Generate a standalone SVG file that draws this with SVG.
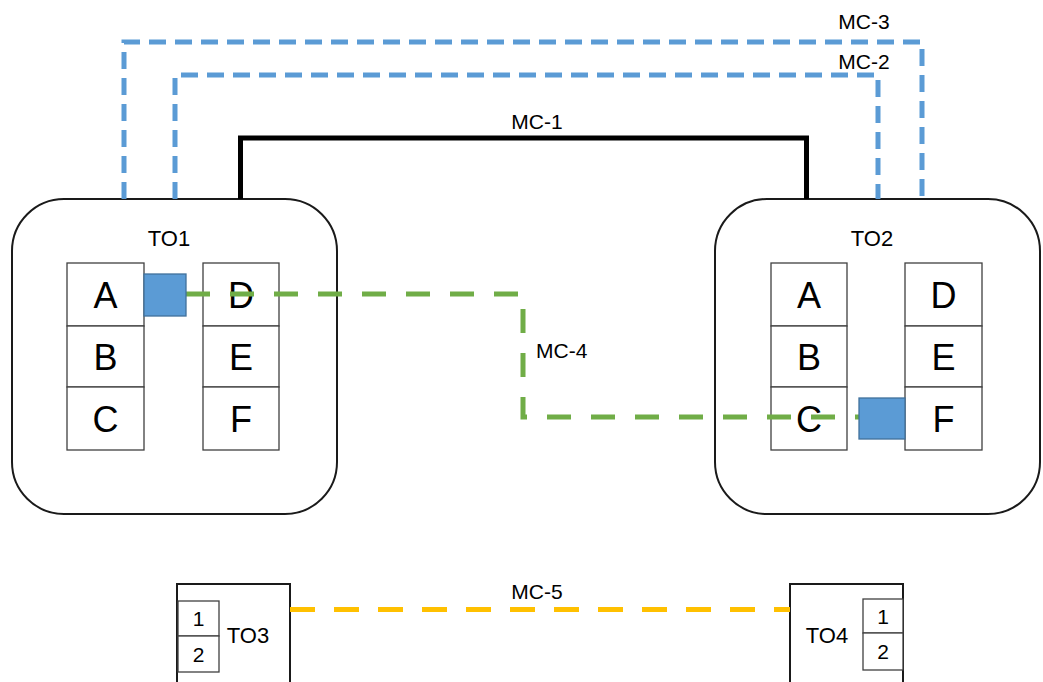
<svg xmlns="http://www.w3.org/2000/svg" width="1043" height="682" viewBox="0 0 1043 682">
<style>
text{font-family:"Liberation Sans",Arial,sans-serif;fill:#000;text-anchor:middle}
.big{fill:#fff;stroke:#1a1a1a;stroke-width:2}
.cell{fill:#fff;stroke:#404040;stroke-width:1.3}
.port{fill:#5B9BD5;stroke:#41719C;stroke-width:1.3}
.letter{font-size:36px}
.title{font-size:22px}
.lbl{font-size:21px}
.dig{font-size:21px}
.conn{fill:none;stroke-width:5}
.blue{stroke:#5B9BD5;stroke-dasharray:17 9}
.green{stroke:#70AD47;stroke-dasharray:24 20}
.yellow{stroke:#FFC000;stroke-dasharray:25 19}
</style>
<rect width="1043" height="682" fill="#fff"/>
<g id="TO1">
<rect class="big" x="12" y="199" width="325" height="315" rx="52" ry="52"/>
<text class="title" x="169" y="246">TO1</text>
<rect class="cell" x="67" y="263" width="77" height="63"/>
<rect class="cell" x="67" y="326" width="77" height="61"/>
<rect class="cell" x="67" y="387" width="77" height="63"/>
<rect class="cell" x="203" y="263" width="76" height="63"/>
<rect class="cell" x="203" y="326" width="76" height="61"/>
<rect class="cell" x="203" y="387" width="76" height="63"/>
<text class="letter" x="105.5" y="307.5">A</text>
<text class="letter" x="105.5" y="369.5">B</text>
<text class="letter" x="105.5" y="431.5">C</text>
<text class="letter" x="241" y="307.5">D</text>
<text class="letter" x="241" y="369.5">E</text>
<text class="letter" x="241" y="431.5">F</text>
</g>
<g id="TO2">
<rect class="big" x="715" y="199" width="325" height="315" rx="52" ry="52"/>
<text class="title" x="872" y="246">TO2</text>
<rect class="cell" x="771" y="263" width="76" height="63"/>
<rect class="cell" x="771" y="326" width="76" height="61"/>
<rect class="cell" x="771" y="387" width="76" height="63"/>
<rect class="cell" x="905" y="263" width="77" height="63"/>
<rect class="cell" x="905" y="326" width="77" height="61"/>
<rect class="cell" x="905" y="387" width="77" height="63"/>
<text class="letter" x="809" y="307.5">A</text>
<text class="letter" x="809" y="369.5">B</text>
<text class="letter" x="809" y="431.5">C</text>
<text class="letter" x="943.5" y="307.5">D</text>
<text class="letter" x="943.5" y="369.5">E</text>
<text class="letter" x="943.5" y="431.5">F</text>
</g>
<g id="TO3">
<rect class="big" x="177" y="584" width="113" height="110"/>
<rect class="cell" x="178" y="601" width="41" height="35"/>
<rect class="cell" x="178" y="636" width="41" height="36"/>
<text class="dig" x="198.5" y="626">1</text>
<text class="dig" x="198.5" y="661.5">2</text>
<text class="title" x="248" y="643">TO3</text>
</g>
<g id="TO4">
<rect class="big" x="790" y="584" width="113" height="110"/>
<rect class="cell" x="863" y="599" width="40" height="34"/>
<rect class="cell" x="863" y="633" width="40" height="37"/>
<text class="dig" x="883" y="623.5">1</text>
<text class="dig" x="883" y="659">2</text>
<text class="title" x="827" y="643">TO4</text>
</g>
<g id="connectors">
<path class="conn blue" d="M124,199 V42 H922 V199"/>
<path class="conn blue" d="M175,199 V75 H878 V199"/>
<path class="conn" stroke="#000" d="M240.5,199 V138 H806.5 V199"/>
<path class="conn green" d="M186,294 H523 V417 H859"/>
<path class="conn yellow" d="M290,609.5 H790"/>
<text class="lbl" x="864" y="29">MC-3</text>
<text class="lbl" x="864" y="69">MC-2</text>
<text class="lbl" x="537" y="129">MC-1</text>
<text class="lbl" x="536" y="358" style="text-anchor:start">MC-4</text>
<text class="lbl" x="537" y="599">MC-5</text>
</g>
<g id="ports">
<rect class="port" x="144" y="274" width="42" height="42"/>
<rect class="port" x="859" y="398" width="46" height="41"/>
</g>
</svg>
